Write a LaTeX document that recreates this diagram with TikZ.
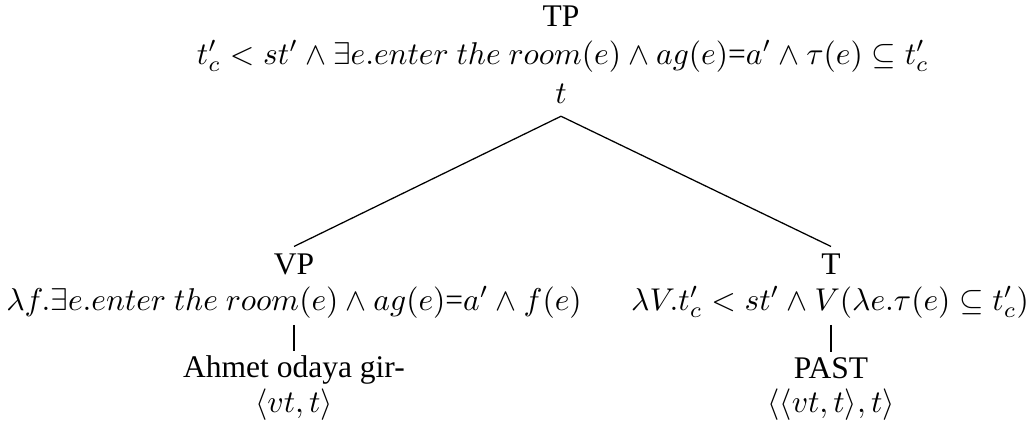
\documentclass[tikz,border=0pt]{standalone}
\usepackage[no-math]{fontspec}
\setmainfont{Liberation Serif}
\tikzset{
  lbl/.style={inner sep=0pt, anchor=base},
  branch/.style={line width=0.4pt}
}
\begin{document}
\begin{tikzpicture}[x=0.3175pt, y=-0.3175pt]
\useasboundingbox (0,0) rectangle (1031,425);
% root
\node[lbl] (TP) at (561,26) {TP};
\node[lbl] (TPf) at (563,64) {$t'_c < st' \wedge \exists e.enter\ the\ room(e) \wedge ag(e)$=$a' \wedge \tau(e) \subseteq t'_c$};
\node[lbl] (TPt) at (561,103) {$t$};
% left daughter
\node[lbl] (VP) at (294,274) {VP};
\node[lbl] (VPf) at (294,310) {$\lambda f.\exists e.enter\ the\ room(e) \wedge ag(e)$=$a' \wedge f(e)$};
\node[lbl] (AH) at (294,377) {Ahmet odaya gir-};
\node[lbl] (AHt) at (294,412) {$\langle vt,t\rangle$};
% right daughter
\node[lbl] (T) at (831,274) {T};
\node[lbl] (Tf) at (830,310) {$\lambda V.t'_c < st' \wedge V(\lambda e.\tau(e) \subseteq t'_c)$};
\node[lbl] (PA) at (831,378) {PAST};
\node[lbl] (PAt) at (831,412) {$\langle\langle vt,t\rangle,t\rangle$};
% branches
\coordinate (apex) at ([yshift=-4pt]TPt.south);
\draw[branch] (apex) -- ([yshift=2pt]VP.north);
\draw[branch] (apex) -- ([yshift=2pt]T.north);
\draw[branch] ([yshift=-2pt]VPf.south -| AH.north) -- ([yshift=1pt]AH.north);
\draw[branch] ([yshift=-2pt]Tf.south -| PA.north) -- ([yshift=1.5pt]PA.north);
\end{tikzpicture}
\end{document}
